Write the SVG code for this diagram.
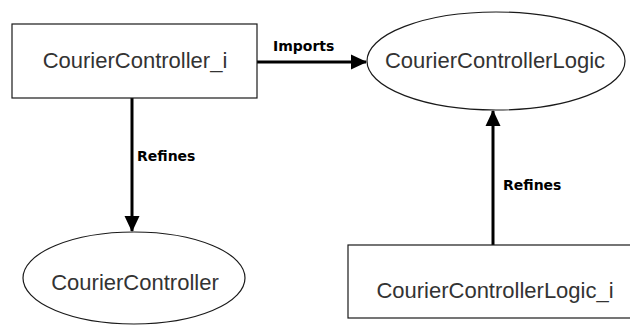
<svg xmlns="http://www.w3.org/2000/svg" width="630" height="325" viewBox="0 0 630 325">
<style>
.box{fill:#fff;stroke:#1a1a1a;stroke-width:1.2}
.lbl{font-family:"Liberation Sans",Arial,sans-serif;font-size:22px;fill:#333;text-anchor:middle}
.edge{stroke:#000;stroke-width:3;fill:none}
.elbl{font-family:"DejaVu Sans",Verdana,sans-serif;font-weight:bold;font-size:14px;fill:#000}
</style>
<defs>
<marker id="ah" markerUnits="userSpaceOnUse" markerWidth="16" markerHeight="16" viewBox="0 0 16 16" refX="15" refY="8" orient="auto">
<path d="M0,0.5 L16,8 L0,15.5 Z" fill="#000"/>
</marker>
</defs>
<rect width="630" height="325" fill="#fff"/>
<g id="connectors">
<line class="edge" x1="257" y1="62" x2="366" y2="62" marker-end="url(#ah)"/>
<line class="edge" x1="132" y1="98" x2="132" y2="231" marker-end="url(#ah)"/>
<line class="edge" x1="493" y1="245" x2="493" y2="111" marker-end="url(#ah)"/>
<text class="elbl" x="273" y="51">Imports</text>
<text class="elbl" x="137" y="161">Refines</text>
<text class="elbl" x="503" y="190">Refines</text>
</g>
<g id="CourierController_i">
<rect class="box" x="12" y="24" width="245" height="74"/>
<text class="lbl" x="135" y="68">CourierController_i</text>
</g>
<g id="CourierControllerLogic">
<ellipse class="box" cx="496" cy="61" rx="129" ry="49"/>
<text class="lbl" x="495" y="68">CourierControllerLogic</text>
</g>
<g id="CourierController">
<ellipse class="box" cx="134" cy="278" rx="111" ry="46"/>
<text class="lbl" x="135" y="290">CourierController</text>
</g>
<g id="CourierControllerLogic_i">
<rect class="box" x="348" y="245" width="294" height="73"/>
<text class="lbl" x="495" y="298">CourierControllerLogic_i</text>
</g>
</svg>
